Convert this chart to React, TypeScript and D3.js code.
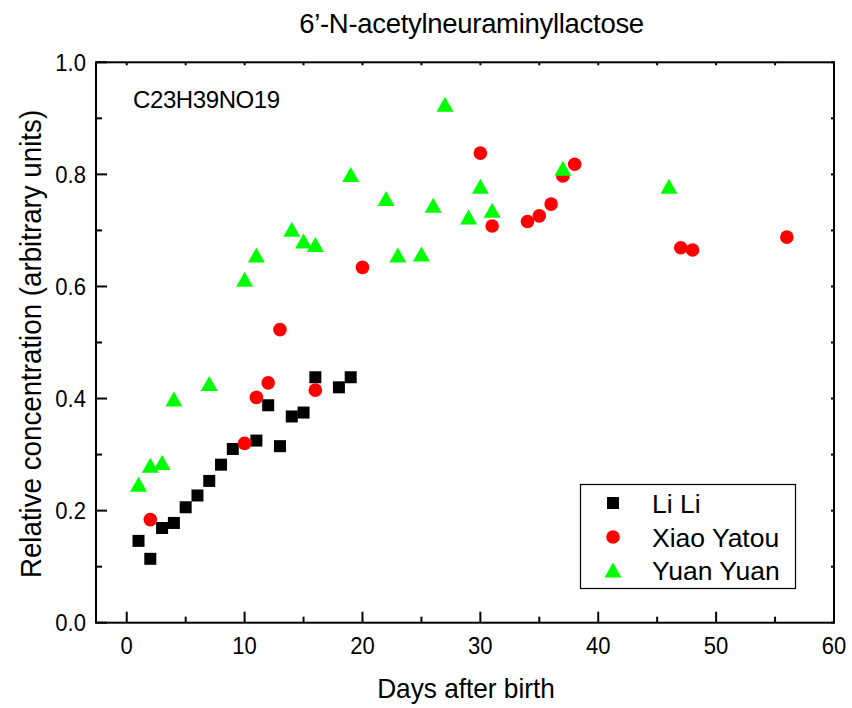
import React from "react";
import * as d3 from "d3";

const liliX = [1, 2, 3, 4, 5, 6, 7, 8, 9, 11, 12, 13, 14, 15, 16, 18, 19];
const liliY = [0.146, 0.114, 0.169, 0.178, 0.206, 0.227, 0.253, 0.282, 0.31, 0.325, 0.388, 0.315, 0.368, 0.375, 0.438, 0.42, 0.438];

const xiaoX = [2, 10, 11, 12, 13, 16, 20, 30, 31, 34, 35, 36, 37, 38, 47, 48, 56];
const xiaoY = [0.184, 0.32, 0.402, 0.428, 0.523, 0.415, 0.634, 0.838, 0.708, 0.716, 0.726, 0.747, 0.797, 0.818, 0.669, 0.665, 0.688];

const yuanX = [1, 2, 3, 4, 7, 10, 11, 14, 15, 16, 19, 22, 23, 25, 26, 27, 29, 30, 31, 37, 46];
const yuanY = [0.247, 0.281, 0.286, 0.399, 0.427, 0.613, 0.656, 0.702, 0.681, 0.675, 0.8, 0.757, 0.656, 0.658, 0.745, 0.925, 0.724, 0.779, 0.736, 0.811, 0.779];

const seriesNames = ["Li Li", "Xiao Yatou", "Yuan Yuan"];
const xTicks = [0, 10, 20, 30, 40, 50, 60];
const xMinor = [5, 15, 25, 35, 45, 55];
const yTicks = [0, 0.2, 0.4, 0.6, 0.8, 1.0];
const yMinor = [0.1, 0.3, 0.5, 0.7, 0.9];

const title = "6\u2019-N-acetylneuraminyllactose";
const xLabel = "Days after birth";
const yLabel = "Relative concentration (arbitrary units)";
const annotation = "C23H39NO19";

const FONT = "'Liberation Sans', Arial, Helvetica, sans-serif";

export default function App() {
  const W = 852, H = 708;
  const left = 96, right = 834, top = 62.3, bottom = 622.7;
  const x = d3.scaleLinear().domain([0, 60]).range([126.7, 833.3]);
  const xDomainLeft = x.invert(left);
  const xs = d3.scaleLinear().domain([xDomainLeft, 60]).range([left, right]);
  const y = d3.scaleLinear().domain([0, 1]).range([bottom, top]);

  const sq = 12;
  const r = 6.8;
  const triW = 17, triH = 15;
  const triPath = (cx: number, cy: number) =>
    `M${cx - triW / 2},${cy + triH / 2}L${cx + triW / 2},${cy + triH / 2}L${cx},${cy - triH / 2}Z`;

  const lili = liliX.map((d, i) => [d, liliY[i]]);
  const xiao = xiaoX.map((d, i) => [d, xiaoY[i]]);
  const yuan = yuanX.map((d, i) => [d, yuanY[i]]);

  const legX = 613;
  const legRows = [503, 537, 570];

  return (
    <svg width={W} height={H} style={{ position: "absolute", left: 0, top: 0, background: "#fff" }} fontFamily={FONT}>
      <rect x={0} y={0} width={W} height={H} fill="#fff" />
      <text x={471.5} y={33} textAnchor="middle" fontSize={27.5} fill="#000" letterSpacing={-0.3}>{title}</text>

      {/* markers */}
      {lili.map((d, i) => (
        <rect key={"l" + i} x={xs(d[0]) - sq / 2} y={y(d[1]) - sq / 2} width={sq} height={sq} fill="#000" />
      ))}
      {xiao.map((d, i) => (
        <circle key={"x" + i} cx={xs(d[0])} cy={y(d[1])} r={r} fill="#ff0000" />
      ))}
      {yuan.map((d, i) => (
        <path key={"y" + i} d={triPath(xs(d[0]), y(d[1]))} fill="#00ff00" />
      ))}

      {/* frame */}
      <rect x={left} y={top} width={right - left} height={bottom - top} fill="none" stroke="#000" strokeWidth={2} />

      {/* x ticks */}
      {xTicks.map((t) => (
        <g key={"xt" + t}>
          <line x1={xs(t)} x2={xs(t)} y1={bottom} y2={bottom - 11} stroke="#000" strokeWidth={2} />
          <line x1={xs(t)} x2={xs(t)} y1={top} y2={top + 3} stroke="#000" strokeWidth={2} />
          <text transform={`translate(${xs(t)},654) scale(0.9,1)`} textAnchor="middle" fontSize={24.5} fill="#000">{t}</text>
        </g>
      ))}
      {xMinor.map((t) => (
        <g key={"xm" + t}>
          <line x1={xs(t)} x2={xs(t)} y1={bottom} y2={bottom - 6} stroke="#000" strokeWidth={2} />
          <line x1={xs(t)} x2={xs(t)} y1={top} y2={top + 3} stroke="#000" strokeWidth={2} />
        </g>
      ))}
      {/* y ticks */}
      {yTicks.map((t) => (
        <g key={"yt" + t}>
          <line x1={left} x2={left + 11} y1={y(t)} y2={y(t)} stroke="#000" strokeWidth={2} />
          <line x1={right} x2={right - 3} y1={y(t)} y2={y(t)} stroke="#000" strokeWidth={2} />
          <text transform={`translate(86,${y(t) + 8.5}) scale(0.9,1)`} textAnchor="end" fontSize={24.5} fill="#000">{d3.format(".1f")(t)}</text>
        </g>
      ))}
      {yMinor.map((t) => (
        <g key={"ym" + t}>
          <line x1={left} x2={left + 6} y1={y(t)} y2={y(t)} stroke="#000" strokeWidth={2} />
          <line x1={right} x2={right - 3} y1={y(t)} y2={y(t)} stroke="#000" strokeWidth={2} />
        </g>
      ))}

      {/* axis titles */}
      <text transform={`translate(466,698) scale(0.92,1)`} textAnchor="middle" fontSize={28.5} fill="#000">{xLabel}</text>
      <text transform={`translate(41,344) rotate(-90) scale(0.94,1)`} textAnchor="middle" fontSize={29.5} fill="#000">{yLabel}</text>

      <text x={133} y={108.3} fontSize={24} fill="#000" letterSpacing={-0.4}>{annotation}</text>

      {/* legend */}
      <rect x={580.5} y={484.5} width={215} height={104} fill="#fff" stroke="#000" strokeWidth={1.2} />
      <rect x={legX - sq / 2} y={legRows[0] - sq / 2} width={sq} height={sq} fill="#000" />
      <circle cx={legX} cy={legRows[1]} r={r} fill="#ff0000" />
      <path d={triPath(legX, legRows[2])} fill="#00ff00" />
      {seriesNames.map((s, i) => (
        <text key={s} x={652} y={legRows[i] + 9.5} fontSize={26.5} fill="#000">{s}</text>
      ))}
    </svg>
  );
}
